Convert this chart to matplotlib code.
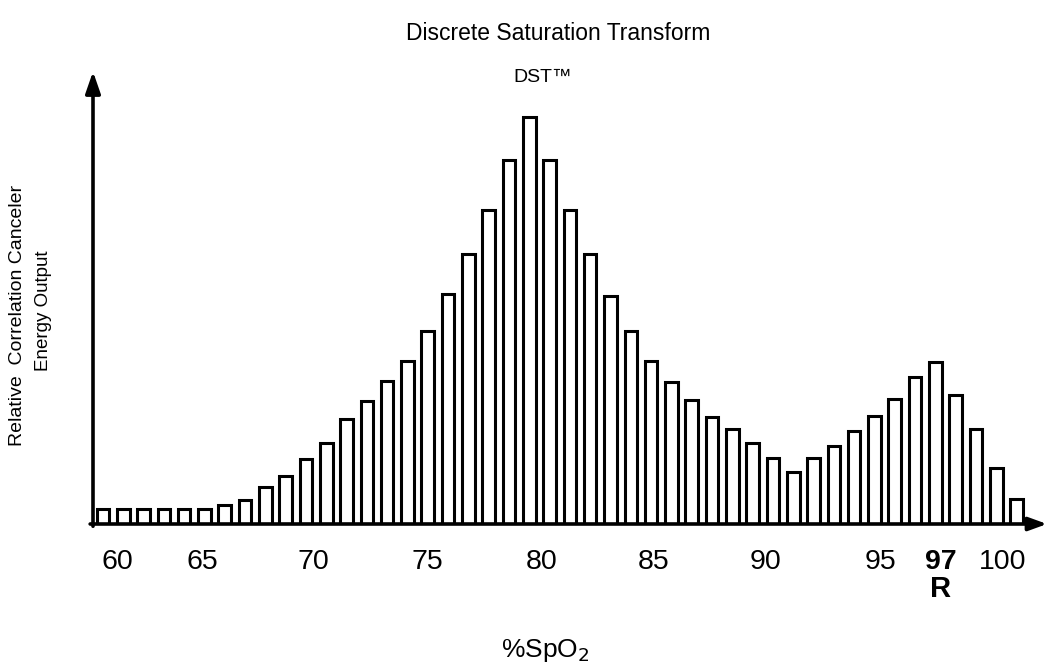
import matplotlib
matplotlib.use("Agg")
import matplotlib.pyplot as plt
import numpy as np

plt.rcParams['font.family'] = ['Liberation Sans', 'DejaVu Sans']

# Relative correlation canceler energy output per bin
energy = [15, 15, 15, 15, 15, 15, 19, 24, 37, 48, 65, 81, 105, 123, 143, 163,
          193, 230, 270, 314, 364, 407, 364, 314, 270, 228, 193, 163, 142, 124,
          107, 95, 81, 66, 52, 66, 78, 93, 108, 125, 147, 162, 129, 95, 56, 25]
bins = list(range(len(energy)))

# x-axis %SpO2 labels and their positions on the bin scale
tick_pos = [0.69, 4.88, 10.35, 16.0, 21.6, 27.1, 32.63, 38.29, 41.25, 44.31]
tick_labels = ['60', '65', '70', '75', '80', '85', '90', '95', '97', '100']

W, H = 1047, 666
fig = plt.figure(figsize=(W / 100, H / 100), dpi=100)

x0_px, x1_px = 93, 1047
y0_px, y1_px = 524, 76
ax = fig.add_axes([x0_px / W, 1 - y0_px / H, (x1_px - x0_px) / W, (y0_px - y1_px) / H])
ax.set_xlim(-0.49, 46.5)
ax.set_ylim(0, 448)

ax.bar(bins, energy, width=0.62, color='white', edgecolor='black', linewidth=2.2, zorder=2)

for s in ax.spines.values():
    s.set_visible(False)
ax.set_yticks([])
ax.set_xticks(tick_pos, tick_labels, fontsize=20.5)
ax.tick_params(axis='x', length=0, pad=18)
for lbl in ax.get_xticklabels():
    if lbl.get_text() == '97':
        lbl.set_fontweight('bold')

# axis arrows
ax.annotate('', xy=(0, 1.01), xytext=(0, -0.005), xycoords='axes fraction',
            arrowprops=dict(arrowstyle='-|>,head_length=1.3,head_width=0.45', lw=2.6,
                            color='black', shrinkA=0, shrinkB=0), annotation_clip=False)
ax.annotate('', xy=(1.0, 0), xytext=(-0.003, 0), xycoords='axes fraction',
            arrowprops=dict(arrowstyle='-|>,head_length=1.1,head_width=0.4', lw=2.6,
                            color='black', shrinkA=0, shrinkB=0), annotation_clip=False)

# "R" marker below 97
r_x = tick_pos[tick_labels.index('97')]
ax.text(r_x, -65, 'R', ha='center', va='center', fontsize=21, fontweight='bold')

fig.text(558 / W, 1 - 33 / H, 'Discrete Saturation Transform', ha='center', va='center', fontsize=16.5)
fig.text(543 / W, 1 - 78 / H, 'DST\u2122', ha='center', va='center', fontsize=14)
fig.text(18 / W, 1 - 315 / H, 'Relative  Correlation Canceler', ha='center', va='center',
         rotation=90, fontsize=14)
fig.text(44 / W, 1 - 311 / H, 'Energy Output', ha='center', va='center',
         rotation=90, fontsize=13.5)
fig.text(545 / W, 1 - 650 / H, '%SpO$_2$', ha='center', va='center', fontsize=19)

fig.savefig('out.png', dpi=100)
